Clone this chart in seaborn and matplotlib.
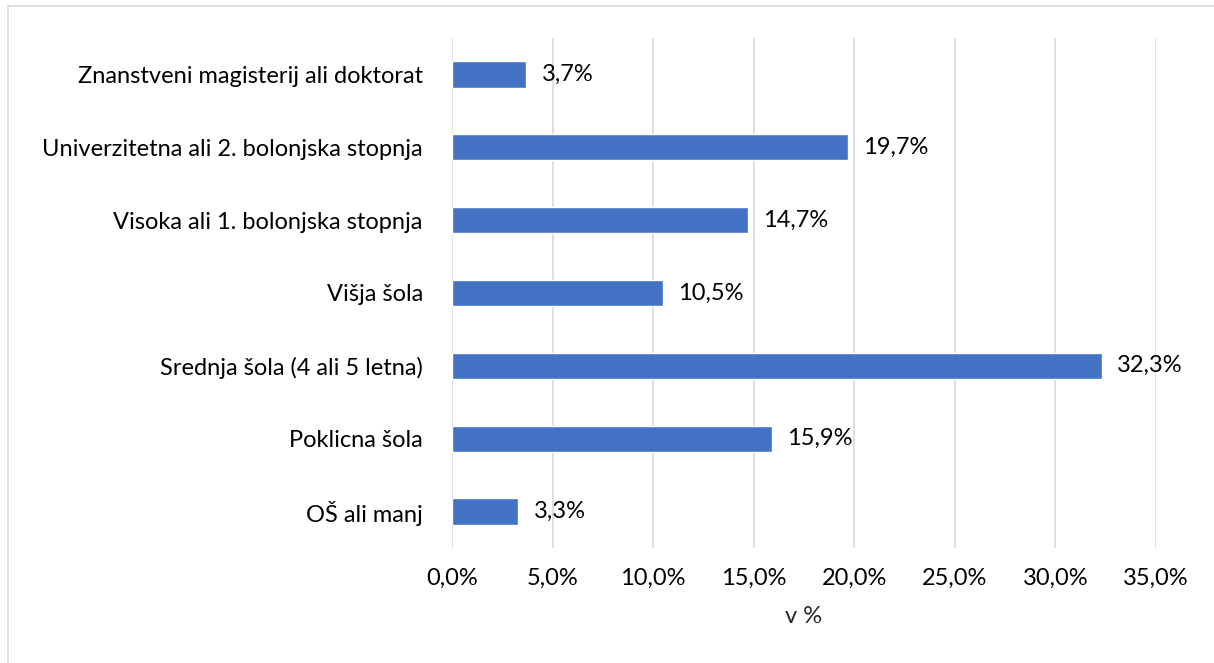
import matplotlib
matplotlib.use("Agg")
import matplotlib.pyplot as plt
import matplotlib.patches as mpatches
import seaborn as sns
import pandas as pd
from matplotlib.ticker import MultipleLocator, FuncFormatter

categories = [
    "Znanstveni magisterij ali doktorat",
    "Univerzitetna ali 2. bolonjska stopnja",
    "Visoka ali 1. bolonjska stopnja",
    "Višja šola",
    "Srednja šola (4 ali 5 letna)",
    "Poklicna šola",
    "OŠ ali manj",
]
values = [3.7, 19.7, 14.7, 10.5, 32.3, 15.9, 3.3]
x_label = "v %"

df = pd.DataFrame({"cat": categories, "val": values})

sns.set_theme(style="white")
plt.rcParams['font.family'] = ['Lato', 'DejaVu Sans']

FS = 17

fig = plt.figure(figsize=(12.14, 6.63), dpi=100)
ax = fig.add_axes([0.3723, 0.1735, 0.9522 - 0.3723, 0.9427 - 0.1735])

sns.barplot(data=df, x="val", y="cat", orient="h", color="#4472C4",
            saturation=1, width=0.36, ax=ax, zorder=3)

ax.set_xlim(0, 35)
ax.set_ylim(6.5, -0.5)
ax.xaxis.set_major_locator(MultipleLocator(5))
ax.xaxis.set_major_formatter(FuncFormatter(lambda v, p: f"{v:.1f}%".replace(".", ",")))
ax.grid(axis="x", color="#d9d9d9", linewidth=1.2, zorder=0)
ax.grid(axis="y", visible=False)
for s in ax.spines.values():
    s.set_visible(False)
ax.tick_params(axis="both", length=0, labelsize=FS, colors="#000000")
ax.tick_params(axis="x", pad=14)
ax.tick_params(axis="y", pad=21)
ax.set_ylabel("")
ax.set_xlabel(x_label, fontsize=FS, labelpad=13)

for i, v in enumerate(values):
    ax.text(v + 0.75, i, f"{v:.1f}%".replace(".", ","), va="center", ha="left",
            fontsize=FS, color="#000000")

# outer border
fig.patches.append(mpatches.Rectangle((8 / 1214, -0.01), 1.02, 1 - 6 / 663 + 0.01,
                                      transform=fig.transFigure, fill=False,
                                      edgecolor="#d9d9d9", linewidth=1.2))

fig.savefig("out.png", dpi=100)
